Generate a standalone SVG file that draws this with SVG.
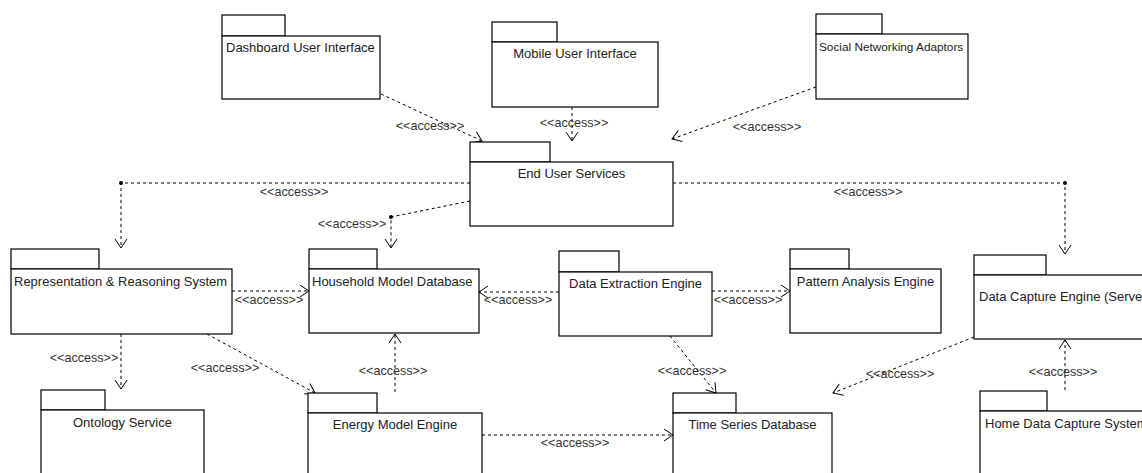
<svg xmlns="http://www.w3.org/2000/svg" width="1142" height="473" viewBox="0 0 1142 473">
<style>
.pk{fill:#fff;stroke:#000;stroke-width:1.2}
.nt{font-family:"Liberation Sans",Arial,sans-serif;font-size:13px;fill:#222}
.c{text-anchor:middle}
.cn{fill:none;stroke:#000;stroke-width:1;stroke-dasharray:3 3;marker-end:url(#arr)}
.lb{font-family:"Liberation Sans",Arial,sans-serif;font-size:12.6px;fill:#333;text-anchor:middle}
</style>
<defs>
<marker id="arr" markerWidth="12" markerHeight="14" refX="10" refY="6.5" orient="auto" markerUnits="userSpaceOnUse">
<path d="M1,0.5 L10,6.5 L1,12.5" fill="none" stroke="#000" stroke-width="1" stroke-dasharray="none"/>
</marker>
</defs>
<rect width="1142" height="473" fill="#fff"/>
<g id="connectors">
<path class="cn" d="M381,94 L482,141"/>
<path class="cn" d="M572,107 L572,141"/>
<path class="cn" d="M816,87 L672,139"/>
<path class="cn" d="M470,183 L121,183 L121,248"/>
<path class="cn" d="M470,201 L391,217 L391,248"/>
<path class="cn" d="M673,183 L1065,183 L1065,254"/>
<path class="cn" d="M232,291 L309,291"/>
<path class="cn" d="M121,334 L121,389"/>
<path class="cn" d="M207,334 L315,393"/>
<path class="cn" d="M395,392 L395,334"/>
<path class="cn" d="M559,292 L479,292"/>
<path class="cn" d="M712,291 L790,291"/>
<path class="cn" d="M670,336 L716,393"/>
<path class="cn" d="M974,337 L833,393"/>
<path class="cn" d="M482,435 L673,435"/>
<path class="cn" d="M1065,390 L1065,340"/>
<circle cx="121" cy="183" r="2"/>
<circle cx="391" cy="217" r="2"/>
<circle cx="1065" cy="183" r="2"/>
<text class="lb" x="430" y="130">&lt;&lt;access&gt;&gt;</text>
<text class="lb" x="574" y="127">&lt;&lt;access&gt;&gt;</text>
<text class="lb" x="767" y="131">&lt;&lt;access&gt;&gt;</text>
<text class="lb" x="294" y="196">&lt;&lt;access&gt;&gt;</text>
<text class="lb" x="352" y="228">&lt;&lt;access&gt;&gt;</text>
<text class="lb" x="868" y="196">&lt;&lt;access&gt;&gt;</text>
<text class="lb" x="269" y="304">&lt;&lt;access&gt;&gt;</text>
<text class="lb" x="84" y="362">&lt;&lt;access&gt;&gt;</text>
<text class="lb" x="225" y="372">&lt;&lt;access&gt;&gt;</text>
<text class="lb" x="393" y="375">&lt;&lt;access&gt;&gt;</text>
<text class="lb" x="518" y="304">&lt;&lt;access&gt;&gt;</text>
<text class="lb" x="748" y="304">&lt;&lt;access&gt;&gt;</text>
<text class="lb" x="692" y="375">&lt;&lt;access&gt;&gt;</text>
<text class="lb" x="900" y="378">&lt;&lt;access&gt;&gt;</text>
<text class="lb" x="575" y="447">&lt;&lt;access&gt;&gt;</text>
<text class="lb" x="1063" y="376">&lt;&lt;access&gt;&gt;</text>
</g>
<g id="dashboard-ui">
<rect class="pk" x="222" y="15" width="63" height="21"/>
<rect class="pk" x="222" y="36" width="158" height="63"/>
<text class="nt" x="226" y="52">Dashboard User Interface</text>
</g>
<g id="mobile-ui">
<rect class="pk" x="492" y="22" width="65" height="20"/>
<rect class="pk" x="492" y="42" width="166" height="65"/>
<text class="nt c" x="575" y="58">Mobile User Interface</text>
</g>
<g id="social-adaptors">
<rect class="pk" x="816" y="14" width="66" height="20"/>
<rect class="pk" x="816" y="34" width="152" height="65"/>
<text class="nt" x="819" y="51" style="font-size:11.8px">Social Networking Adaptors</text>
</g>
<g id="end-user-services">
<rect class="pk" x="470" y="142" width="80" height="20"/>
<rect class="pk" x="470" y="162" width="203" height="64"/>
<text class="nt c" x="571.5" y="178">End User Services</text>
</g>
<g id="representation-reasoning">
<rect class="pk" x="11" y="249" width="88" height="20"/>
<rect class="pk" x="11" y="269" width="221" height="65"/>
<text class="nt" x="14" y="286">Representation &amp; Reasoning System</text>
</g>
<g id="household-model-db">
<rect class="pk" x="309" y="249" width="68" height="20"/>
<rect class="pk" x="309" y="269" width="170" height="64"/>
<text class="nt" x="312" y="286">Household Model Database</text>
</g>
<g id="data-extraction">
<rect class="pk" x="559" y="251" width="60" height="21"/>
<rect class="pk" x="559" y="272" width="153" height="64"/>
<text class="nt c" x="635.5" y="288">Data Extraction Engine</text>
</g>
<g id="pattern-analysis">
<rect class="pk" x="790" y="249" width="59" height="20"/>
<rect class="pk" x="790" y="269" width="151" height="64"/>
<text class="nt c" x="865.5" y="286">Pattern Analysis Engine</text>
</g>
<g id="data-capture-server">
<rect class="pk" x="974" y="255" width="72" height="20"/>
<rect class="pk" x="974" y="275" width="180" height="64"/>
<text class="nt" x="979" y="301">Data Capture Engine (Server)</text>
</g>
<g id="ontology-service">
<rect class="pk" x="41" y="390" width="64" height="20"/>
<rect class="pk" x="41" y="410" width="163" height="80"/>
<text class="nt c" x="122.5" y="427">Ontology Service</text>
</g>
<g id="energy-model">
<rect class="pk" x="308" y="393" width="69" height="20"/>
<rect class="pk" x="308" y="413" width="174" height="80"/>
<text class="nt c" x="395" y="429">Energy Model Engine</text>
</g>
<g id="time-series-db">
<rect class="pk" x="673" y="393" width="63" height="20"/>
<rect class="pk" x="673" y="413" width="159" height="80"/>
<text class="nt c" x="752.5" y="429">Time Series Database</text>
</g>
<g id="home-data-capture">
<rect class="pk" x="980" y="391" width="67" height="20"/>
<rect class="pk" x="980" y="411" width="180" height="80"/>
<text class="nt" x="985" y="428">Home Data Capture System</text>
</g>
</svg>
